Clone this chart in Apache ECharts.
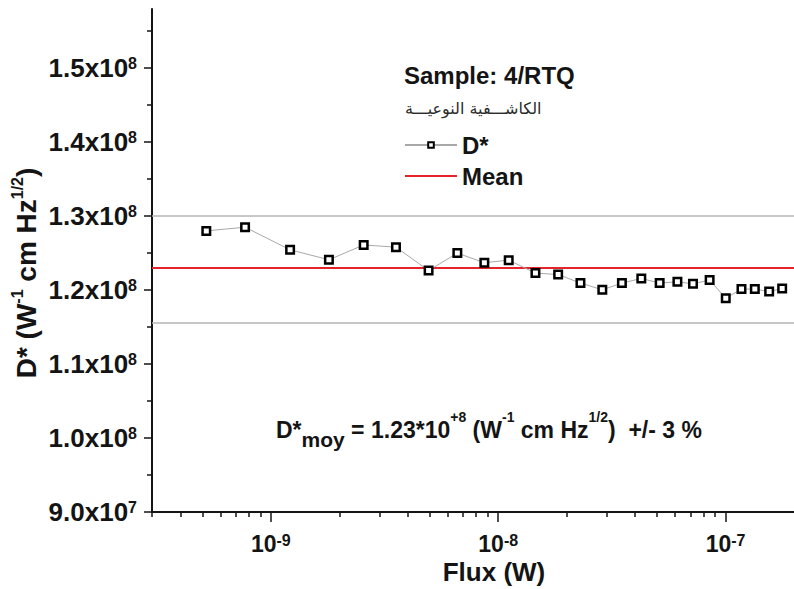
<!DOCTYPE html>
<html>
<head>
<meta charset="utf-8">
<script src="https://cdn.jsdelivr.net/npm/echarts@6/dist/echarts.min.js"></script>
<style>
  html, body { margin: 0; padding: 0; background: #ffffff; }
  #chart { width: 794px; height: 589px; }
</style>
</head>
<body>
<div id="chart"></div>
<script>
// Incident flux of each measurement (W)
const flux = [
  5.2e-10, 7.7e-10, 1.215e-9, 1.80e-9, 2.56e-9, 3.55e-9, 4.94e-9, 6.61e-9, 8.69e-9,
  1.112e-8, 1.458e-8, 1.835e-8, 2.30e-8, 2.87e-8, 3.50e-8, 4.26e-8, 5.13e-8, 6.14e-8,
  7.19e-8, 8.51e-8, 1.002e-7, 1.175e-7, 1.345e-7, 1.555e-7, 1.774e-7
];
// Specific detectivity D* (W^-1 cm Hz^1/2)
const detectivity = [
  1.280e8, 1.285e8, 1.2545e8, 1.241e8, 1.261e8, 1.258e8, 1.2265e8, 1.250e8, 1.237e8,
  1.2405e8, 1.223e8, 1.221e8, 1.2095e8, 1.2004e8, 1.2095e8, 1.2157e8, 1.2095e8, 1.2112e8,
  1.2085e8, 1.2135e8, 1.189e8, 1.2014e8, 1.2014e8, 1.198e8, 1.202e8
];
// Mean detectivity and the two reference levels around it
const meanValue = 1.23e8;
const bandValues = [1.300e8, 1.156e8];

const fluxRange = [3e-10, 2e-7];
const detRange = [0.9e8, 1.58e8];
const fluxTicks = [1e-9, 1e-8, 1e-7];
const detTicks = [0.9e8, 1.0e8, 1.1e8, 1.2e8, 1.3e8, 1.4e8, 1.5e8];

// Minor ticks of the log axis: 2..9 times each decade
const fluxMinorTicks = [];
for (let d = -10; d <= -7; d++) {
  for (let k = 2; k <= 9; k++) {
    const v = k * Math.pow(10, d);
    if (v >= fluxRange[0] * 0.999 && v < fluxRange[1] * 0.999) fluxMinorTicks.push(v);
  }
}

const FONT = '"Liberation Sans", Arial, sans-serif';
const INK = '#141414';

function sciLabel(v) {
  const e = Math.floor(Math.log10(v) + 1e-9);
  const m = (v / Math.pow(10, e)).toFixed(1);
  return '{m|' + m + 'x10}{s|' + e + '}';
}
function powLabel(v) {
  const e = Math.log10(v);
  if (Math.abs(e - Math.round(e)) > 1e-6) return '';
  return '{m|10}{s|' + Math.round(e) + '}';
}

const meanText = (meanValue / 1e8).toFixed(2);

const chart = echarts.init(document.getElementById('chart'), null, { renderer: 'svg' });

chart.setOption({
  animation: false,
  backgroundColor: '#ffffff',
  grid: { left: 152, right: 0, top: 9, bottom: 77, containLabel: false, outerBoundsMode: 'none' },
  legend: {
    orient: 'vertical',
    left: 404,
    top: 132,
    padding: 0,
    itemGap: 5,
    itemWidth: 52,
    itemHeight: 7,
    selectedMode: false,
    textStyle: { fontFamily: FONT, fontWeight: 'bold', fontSize: 24, color: INK, lineHeight: 26 },
    data: [
      { name: 'D*', itemStyle: { borderWidth: 2 } },
      { name: 'Mean', itemStyle: { opacity: 0 } }
    ]
  },
  xAxis: [
    {
      type: 'log',
      logBase: 10,
      min: fluxRange[0],
      max: fluxRange[1],
      position: 'bottom',
      name: 'Flux (W)',
      nameLocation: 'middle',
      nameGap: 60,
      nameMoveOverlap: false,
      nameTextStyle: {
        fontFamily: FONT, fontWeight: 'bold', fontSize: 26, color: INK,
        lineHeight: 24, verticalAlign: 'middle', align: 'center', padding: [0, 0, 0, 42]
      },
      axisLine: { show: true, onZero: false, lineStyle: { color: INK, width: 2 } },
      axisTick: { show: true, length: 10, customValues: fluxTicks, lineStyle: { color: INK, width: 1.5 } },
      minorTick: { show: false },
      splitLine: { show: false },
      axisLabel: {
        customValues: fluxTicks,
        margin: 20,
        fontFamily: FONT,
        fontWeight: 'bold',
        fontSize: 23,
        color: INK,
        hideOverlap: false,
        formatter: powLabel,
        rich: {
          m: { fontFamily: FONT, fontWeight: 'bold', fontSize: 23, lineHeight: 24, color: INK },
          s: { fontFamily: FONT, fontWeight: 'bold', fontSize: 16, lineHeight: 3, verticalAlign: 'top', color: INK }
        }
      }
    },
    {
      // second scale on the same axis line, carrying the 2..9 minor ticks
      type: 'log',
      logBase: 10,
      min: fluxRange[0],
      max: fluxRange[1],
      position: 'bottom',
      axisLine: { show: false },
      axisTick: { show: true, length: 5, customValues: fluxMinorTicks, lineStyle: { color: INK, width: 1.5 } },
      axisLabel: { show: false },
      splitLine: { show: false }
    }
  ],
  yAxis: {
    type: 'value',
    min: detRange[0],
    max: detRange[1],
    interval: 1e7,
    name: '{m|D* (W}{s|-1}{m| cm Hz}{s|1/2}{m|)}',
    nameLocation: 'middle',
    nameRotate: 90,
    nameGap: 126,
    nameMoveOverlap: false,
    nameTextStyle: {
      verticalAlign: 'middle', align: 'center', padding: [0, 25, 0, 0],
      rich: {
        m: { fontFamily: FONT, fontWeight: 'bold', fontSize: 28, lineHeight: 34, color: INK },
        s: { fontFamily: FONT, fontWeight: 'bold', fontSize: 16, lineHeight: 9, verticalAlign: 'top', color: INK }
      }
    },
    axisLine: { show: true, lineStyle: { color: INK, width: 2 } },
    axisTick: { show: true, length: 8, customValues: detTicks, lineStyle: { color: INK, width: 1.5 } },
    minorTick: { show: true, splitNumber: 2, length: 5, lineStyle: { color: INK, width: 1.5 } },
    splitLine: { show: false },
    minorSplitLine: { show: false },
    axisLabel: {
      customValues: detTicks,
      margin: 15,
      formatter: sciLabel,
      rich: {
        m: { fontFamily: FONT, fontWeight: 'bold', fontSize: 26, lineHeight: 26, color: INK },
        s: { fontFamily: FONT, fontWeight: 'bold', fontSize: 16, lineHeight: 8.4, verticalAlign: 'top', color: INK }
      }
    }
  },
  series: [
    {
      name: 'Mean',
      type: 'line',
      xAxisIndex: 0,
      data: [[fluxRange[0], meanValue], [fluxRange[1], meanValue]],
      symbol: 'none',
      lineStyle: { color: '#e6232a', width: 2 },
      itemStyle: { color: '#e6232a' },
      z: 3,
      markLine: {
        silent: true,
        symbol: 'none',
        label: { show: false },
        lineStyle: { color: '#b4b4b4', width: 1.5, type: 'solid' },
        data: bandValues.map(v => ({ yAxis: v }))
      }
    },
    {
      name: 'D*',
      type: 'line',
      xAxisIndex: 0,
      data: flux.map((f, i) => [f, detectivity[i]]),
      symbol: 'rect',
      symbolSize: 7.5,
      showAllSymbol: true,
      lineStyle: { color: '#a8a8a8', width: 1 },
      itemStyle: { color: '#ffffff', borderColor: '#000000', borderWidth: 2.5 },
      z: 5
    }
  ],
  graphic: [
    {
      type: 'text',
      x: 404,
      y: 75,
      style: {
        text: 'Sample: 4/RTQ',
        fontFamily: FONT, fontWeight: 'bold', fontSize: 24, fill: INK,
        align: 'left', verticalAlign: 'middle'
      }
    },
    {
      type: 'text',
      x: 405,
      y: 108,
      style: {
        text: 'الكاشـــفية النوعيـــة',
        fontFamily: '"DejaVu Sans", sans-serif', fontSize: 16, fill: '#2a2a2a',
        align: 'left', verticalAlign: 'middle'
      }
    },
    {
      type: 'text',
      x: 276,
      y: 430,
      style: {
        text: '{m|D*}{sub|moy}{m| = ' + meanText + '*10}{sup|+8}{m| (W}{sup|-1}{m| cm Hz}{sup|1/2}{m|)\u00a0 +/- 3 %}',
        align: 'left',
        verticalAlign: 'middle',
        rich: {
          m: { fontFamily: FONT, fontWeight: 'bold', fontSize: 23, lineHeight: 40, fill: INK, color: INK },
          sub: { fontFamily: FONT, fontWeight: 'bold', fontSize: 21, lineHeight: 13.4, verticalAlign: 'bottom', fill: INK, color: INK },
          sup: { fontFamily: FONT, fontWeight: 'bold', fontSize: 14, lineHeight: 25.6, verticalAlign: 'top', fill: INK, color: INK }
        }
      }
    }
  ]
});
</script>
</body>
</html>
